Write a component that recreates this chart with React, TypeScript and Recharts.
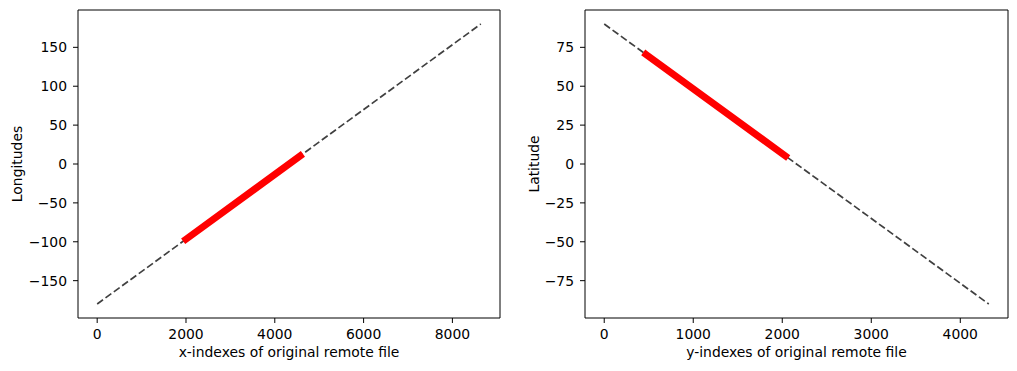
import { LineChart, Line, XAxis, YAxis, ReferenceArea } from 'recharts';

// left panel: longitude vs x-index
const lonLine = [
  { x: 0, y: -180 },
  { x: 8640, y: 180 },
];
const lonSubset = [
  { x: 2000, y: -96.7 },
  { x: 4570, y: 10.4 },
];
const lonXTicks = [0, 2000, 4000, 6000, 8000];
const lonYTicks = [-150, -100, -50, 0, 50, 100, 150];

// right panel: latitude vs y-index
const latLine = [
  { x: 0, y: 90 },
  { x: 4320, y: -90 },
];
const latSubset = [
  { x: 470, y: 70.4 },
  { x: 2035, y: 5.2 },
];
const latXTicks = [0, 1000, 2000, 3000, 4000];
const latYTicks = [-75, -50, -25, 0, 25, 50, 75];

const font = 'DejaVu Sans';
const tickStyle = { fill: '#000', fontSize: 13.9, fontFamily: font };
const fmt = (v: number) => String(v).replace('-', '\u2212');

interface PanelProps {
  full: { x: number; y: number }[];
  subset: { x: number; y: number }[];
  xDomain: [number, number];
  yDomain: [number, number];
  xTicks: number[];
  yTicks: number[];
  xLabel: string;
  yLabel: string;
  yAxisWidth: number;
  yLabelOffset: number;
  width: number;
  marginRight: number;
}

function Panel(p: PanelProps) {
  return (
    <LineChart
      width={p.width}
      height={371}
      margin={{ top: 10, right: p.marginRight, left: 0, bottom: 0 }}
    >
      <XAxis
        type="number"
        dataKey="x"
        domain={p.xDomain}
        ticks={p.xTicks}
        allowDataOverflow
        height={53}
        axisLine={false}
        tickLine={{ stroke: '#000' }}
        tickSize={5}
        tickMargin={6}
        tick={tickStyle}
        tickFormatter={fmt}
        label={{
          value: p.xLabel,
          position: 'insideBottom',
          offset: 14,
          style: { fill: '#000', fontSize: 13.9, fontFamily: font },
        }}
      />
      <YAxis
        type="number"
        dataKey="y"
        domain={p.yDomain}
        ticks={p.yTicks}
        allowDataOverflow
        width={p.yAxisWidth}
        axisLine={false}
        tickLine={{ stroke: '#000' }}
        tickSize={5}
        tickMargin={6}
        tick={tickStyle}
        tickFormatter={fmt}
        label={{
          value: p.yLabel,
          angle: -90,
          position: 'insideLeft',
          offset: p.yLabelOffset,
          style: { fill: '#000', fontSize: 13.9, fontFamily: font, textAnchor: 'middle' },
        }}
      />
      <ReferenceArea
        x1={p.xDomain[0]}
        x2={p.xDomain[1]}
        y1={p.yDomain[0]}
        y2={p.yDomain[1]}
        fill="none"
        fillOpacity={0}
        stroke="#000"
        strokeWidth={1}
      />
      <Line
        data={p.full}
        dataKey="y"
        type="linear"
        stroke="#404040"
        strokeWidth={1.7}
        strokeDasharray="7.2 3.1"
        dot={false}
        activeDot={false}
        isAnimationActive={false}
      />
      <Line
        data={p.subset}
        dataKey="y"
        type="linear"
        stroke="#ff0000"
        strokeWidth={7}
        strokeLinecap="square"
        dot={false}
        activeDot={false}
        isAnimationActive={false}
      />
    </LineChart>
  );
}

export default function App() {
  return (
    <div style={{ position: 'relative', width: 1017, height: 371, margin: -8, background: '#fff' }}>
      <div style={{ position: 'absolute', left: 0, top: 0 }}>
        <Panel
          full={lonLine}
          subset={lonSubset}
          xDomain={[-432, 9072]}
          yDomain={[-198, 198]}
          xTicks={lonXTicks}
          yTicks={lonYTicks}
          xLabel="x-indexes of original remote file"
          yLabel="Longitudes"
          yAxisWidth={78}
          yLabelOffset={17}
          width={508}
          marginRight={8}
        />
      </div>
      <div style={{ position: 'absolute', left: 508, top: 0 }}>
        <Panel
          full={latLine}
          subset={latSubset}
          xDomain={[-216, 4536]}
          yDomain={[-99, 99]}
          xTicks={latXTicks}
          yTicks={latYTicks}
          xLabel="y-indexes of original remote file"
          yLabel="Latitude"
          yAxisWidth={77}
          yLabelOffset={26}
          width={509}
          marginRight={9}
        />
      </div>
    </div>
  );
}
